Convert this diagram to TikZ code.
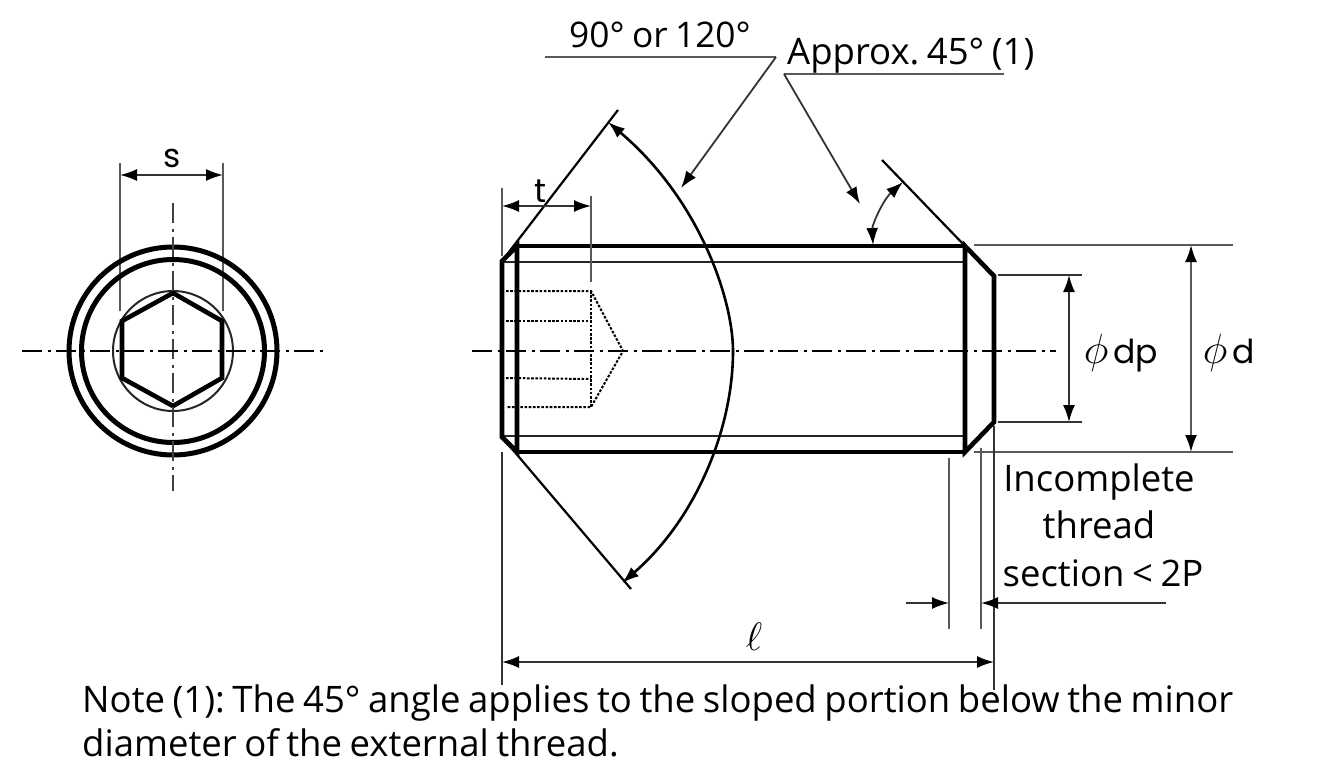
\documentclass[tikz,border=0pt]{standalone}
\usepackage{fontspec}
\setmainfont[WordSpace=0.8]{Open Sans}
\newfontfamily\lblfont{Poppins}
\usetikzlibrary{arrows.meta,calc}
\definecolor{dimgray}{gray}{0.35}
\tikzset{
  x=1pt,y=-1pt,
  heavy/.style={line width=5pt,black,line join=miter},
  hull/.style={line width=4.6pt,black,line join=miter},
  thinb/.style={line width=2pt,black!85},
  dimg/.style={line width=2pt,dimgray},
  dimk/.style={line width=1.8pt,black!80},
  slant/.style={line width=2.2pt,black},
  tipboth/.style={{Latex[length=17pt,width=12pt,black]}-{Latex[length=17pt,width=12pt,black]}},
  tipend/.style={-{Latex[length=17pt,width=12pt,black]}},
  axisline/.style={line width=1.9pt,black,dash pattern=on 20pt off 5.5pt on 3pt off 5.5pt},
  hid/.style={line width=2pt,black,dash pattern=on 2.6pt off 1.6pt},
  captxt/.style={inner sep=0pt,font=\frenchspacing\fontsize{36.5}{36.5}\selectfont,anchor=base west},
  lbl/.style={inner sep=0pt,font=\lblfont\fontsize{33}{33}\selectfont,anchor=base},
}
\begin{document}
\begin{tikzpicture}
\useasboundingbox (0,0) rectangle (1339,766);
\fill[white] (0,0) rectangle (1339,766);
% ---------- end view
\coordinate (c) at (173,351);
\draw[dimg] (120,163) -- (120,311);
\draw[dimg] (223,163) -- (223,311);
\draw[dimk,tipboth] (120,175) -- (223,175);
\node[lbl,anchor=base] (s) at (172,167) {s};
\draw[heavy] (c) circle (104);
\draw[heavy] (c) circle (91.5);
\draw[thinb] (c) circle (60);
\draw[hull] (173,293) -- (222,321) -- (222,378) -- (173,406) -- (122,378) -- (122,321) -- cycle;
\draw[axisline,line width=2.6pt,black!75] (173,203) -- (173,491);
\draw[axisline] (22,351) -- (323,351);
% ---------- side view
\coordinate (TL) at (517,246);
\coordinate (TR) at (965,246);
\coordinate (BL) at (517,452);
\coordinate (BR) at (965,452);
\coordinate (LT) at (502,261);
\coordinate (LB) at (502,437);
\coordinate (RT) at (994,276);
\coordinate (RB) at (994,422);
\draw[axisline] (472,351) -- (1056,351);
% hidden socket
\draw[hid] (506,291) -- (591,291) -- (623,351) -- (591,407) -- (506,407);
\draw[hid] (506,321) -- (591,321);
\draw[hid] (506,378) -- (591,379);
\draw[hid] (591,291) -- (591,407);
% body
\draw[thinb] (502,262) -- (967,262);
\draw[thinb] (502,436) -- (967,436);
\draw[hull] (TL) -- (TR);
\draw[hull] (BL) -- (BR);
\draw[hull] (LT) -- (TL) -- (BL) -- (LB) -- cycle;
\draw[hull] (TR) -- (RT) -- (RB) -- (BR) -- cycle;
% angles at head
\draw[slant] (502,261) -- (618,110);
\draw[slant] (502,437) -- (631,589);
\draw[slant] (882,160) -- (965,246);
\draw[line width=2.6pt,black,tipboth] (608,122) .. controls (700,200) and (733,300) .. (733,351) .. controls (733,430) and (695,520) .. (622,583);
\draw[dimk,tipboth] (873,245) .. controls (872,225) and (883,200) .. (903,182);
% leaders
\draw[dimg] (545,57) -- (776,57);
\draw[dimk,tipend] (776,57) -- (681,188);
\draw[dimg] (784,74) -- (1004,74);
\draw[dimk,tipend] (784,74) -- (860,204);
% t
\draw[dimg] (502,188) -- (502,256);
\draw[dimg] (591,196) -- (591,282);
\draw[dimk,tipboth] (502,206) -- (591,206);
\node[lbl,anchor=base] (t) at (541,202) {t};
% dp, d
\draw[dimk] (998,275) -- (1082,275);
\draw[dimk] (998,422) -- (1082,422);
\draw[dimk,tipboth] (1069,275) -- (1069,422);
\draw[dimg] (974,245) -- (1233,245);
\draw[dimg] (974,452) -- (1233,452);
\draw[dimg,tipboth] (1191,245) -- (1191,452);
\node[lbl] (ph1) at (1096,363) {\scalebox{1.7}{$\phi$}};
\node[lbl,anchor=base west] (dp) at (1113,363) {dp};
\node[lbl] (ph2) at (1215,363) {\scalebox{1.7}{$\phi$}};
\node[lbl,anchor=base west] (d) at (1232,363) {d};
% length
\draw[dimk] (502,452) -- (502,685);
\draw[dimk] (994,426) -- (994,690);
\draw[dimk,tipboth] (502,662) -- (994,662);
\node[lbl,anchor=base] (l) at (754,650) {\scalebox{1.6}{$\ell$}};
% incomplete
\draw[dimg] (949,458) -- (949,629);
\draw[dimg] (981,448) -- (981,629);
\draw[dimk,tipend] (906,603) -- (949,603);
\draw[dimk,tipend] (1166,603) -- (981,603);
% captions
\node[captxt,font=\frenchspacing\fontsize{35.3}{35.3}\selectfont] (ang) at (569,47) {90° or 120°};
\node[captxt] (apx) at (787,64) {Approx. 45° (1)};
\node[captxt,anchor=base] (i1) at (1099,491) {Incomplete};
\node[captxt,anchor=base] (i2) at (1099,538) {thread};
\node[captxt,anchor=base] (i3) at (1103,586) {section < 2P};
\node[captxt] (n1) at (82,712) {Note (1): The 45° angle applies to the sloped portion below the minor};
\node[captxt] (n2) at (82,756) {diameter of the external thread.};
\end{tikzpicture}
\end{document}
